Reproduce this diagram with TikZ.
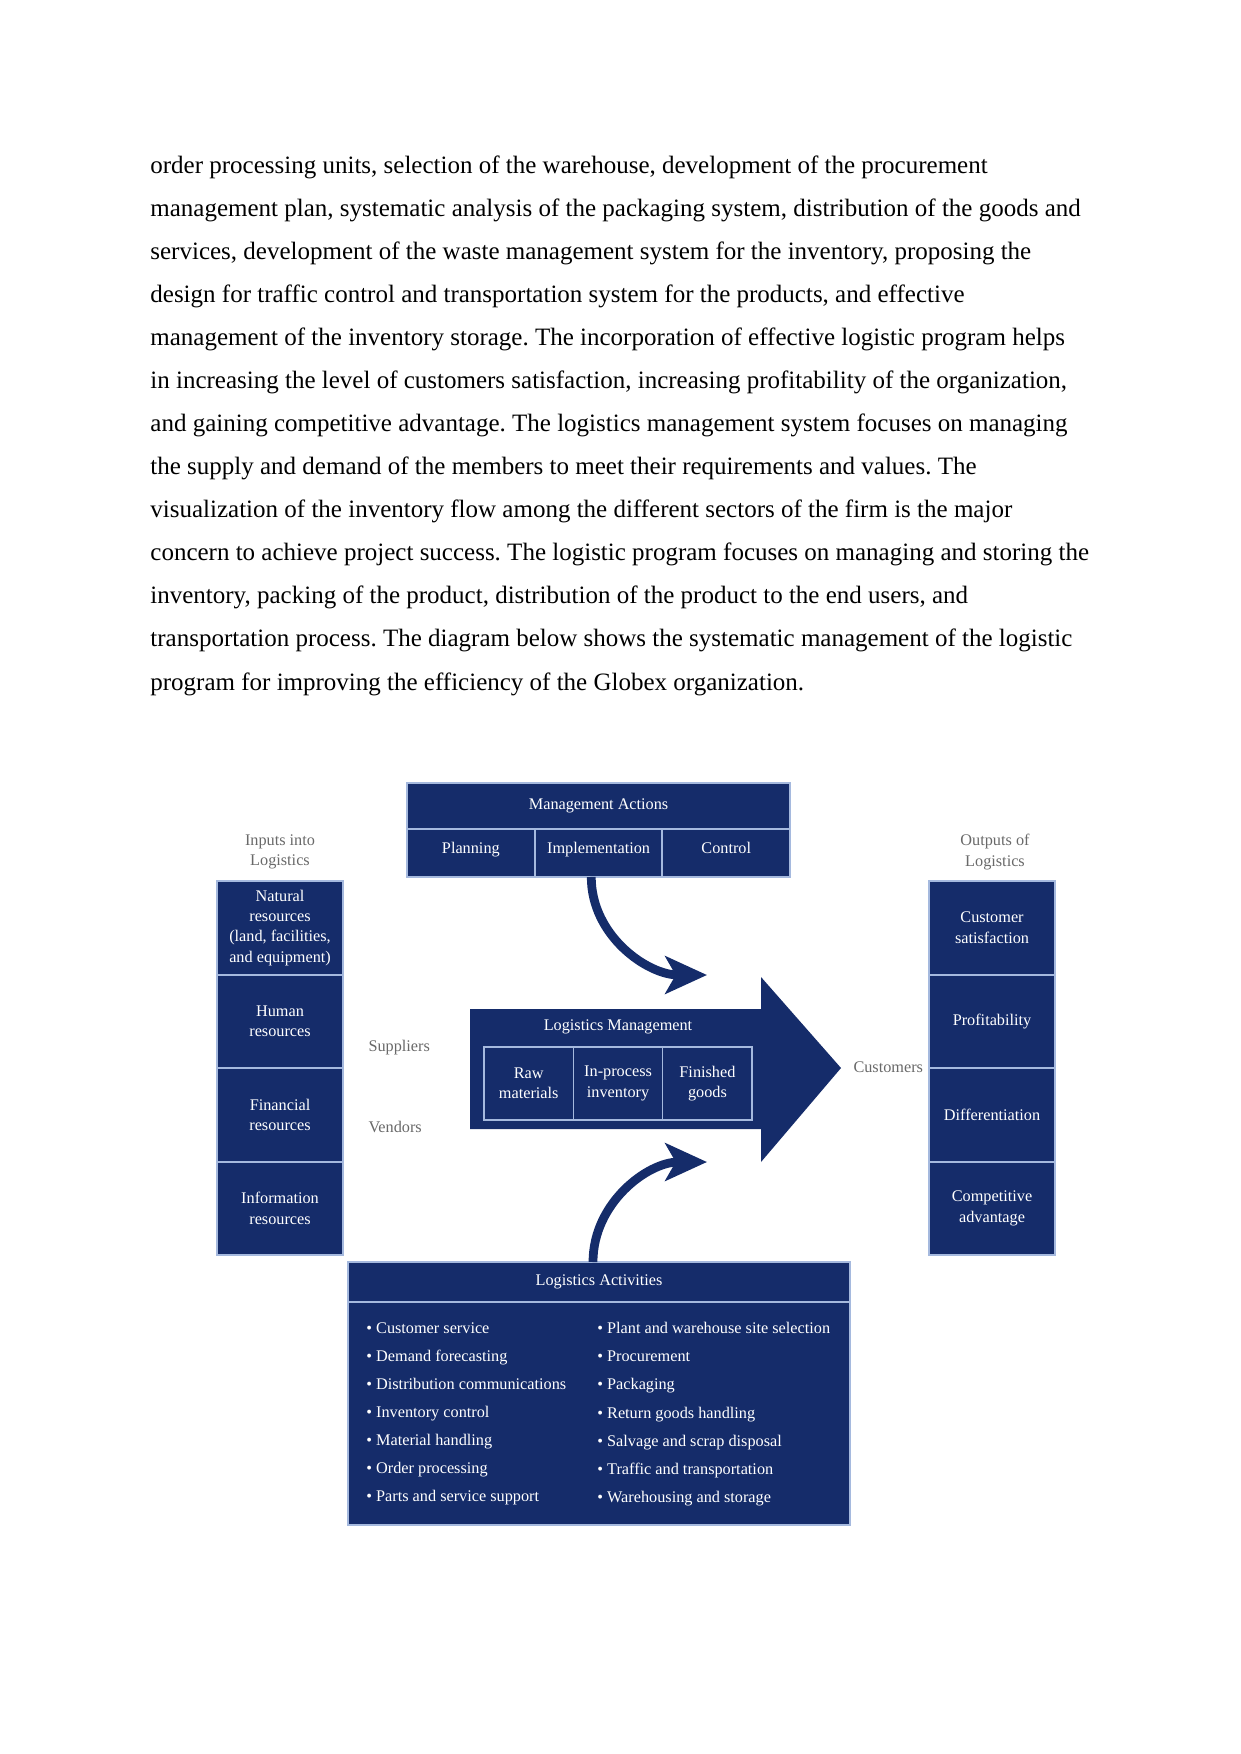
\documentclass[tikz,border=0pt]{standalone}
\usepackage{fontspec}
\setmainfont{Liberation Serif}
\usepackage{xcolor}
\usetikzlibrary{arrows.meta,positioning}
\definecolor{navy}{RGB}{21,44,106}
\definecolor{rulecol}{RGB}{165,185,222}
\definecolor{capgrey}{RGB}{105,105,105}
\tikzset{
  cell/.style={draw=rulecol, line width=1pt, fill=navy, text=white, align=center,
    inner sep=2pt, outer sep=0pt, font={\fontsize{7.8}{9.8}\selectfont}},
  mcell/.style={cell, minimum width=61.3pt, minimum height=23pt,
    text height=1.2ex, text depth=1.2ex},
  side/.style={cell, minimum width=60.5pt, minimum height=44.9pt},
  inv/.style={cell, line width=0.7pt, minimum width=42.9pt, minimum height=35pt},
  wtxt/.style={text=white, inner sep=1pt, font={\fontsize{7.8}{9.8}\selectfont}},
  lbl/.style={text=capgrey, align=center, inner sep=1pt,
    font={\fontsize{7.8}{9.8}\selectfont}},
  items/.style={text=white, align=left, inner sep=0pt,
    font={\fontsize{7.8}{13.5}\selectfont}},
  para/.style={align=left, inner sep=0pt,
    font={\fontsize{12}{20.68}\selectfont\frenchspacing}},
  flow/.style={-{Stealth[length=20pt, width=18pt, inset=5pt]}, line width=4.2pt,
    draw=navy}
}
\begin{document}
\begin{tikzpicture}[x=0.48pt, y=-0.48pt]
\fill[white] (0,0) rectangle (1241,1754);
\useasboundingbox (0,0) rectangle (1241,1754);

\node[para, anchor=north west] (txt) at (150,155) {order processing units, selection of the warehouse, development of the procurement\\
management plan, systematic analysis of the packaging system, distribution of the goods and\\
services, development of the waste management system for the inventory, proposing the\\
design for traffic control and transportation system for the products, and effective\\
management of the inventory storage. The incorporation of effective logistic program helps\\
in increasing the level of customers satisfaction, increasing profitability of the organization,\\
and gaining competitive advantage. The logistics management system focuses on managing\\
the supply and demand of the members to meet their requirements and values. The\\
visualization of the inventory flow among the different sectors of the firm is the major\\
concern to achieve project success. The logistic program focuses on managing and storing the\\
inventory, packing of the product, distribution of the product to the end users, and\\
transportation process. The diagram below shows the systematic management of the logistic\\
program for improving the efficiency of the Globex organization.};

\node[cell, minimum width=183.9pt, minimum height=22.1pt, anchor=north west] (ma) at (407,783) {Management Actions};
\node[mcell, anchor=north west] (pl) at (ma.south west) {Planning};
\node[mcell, right=0pt of pl] (im) {Implementation};
\node[mcell, right=0pt of im] (co) {Control};

\node[lbl] (inl) at (280,852) {Inputs into\\Logistics};
\node[side, anchor=north west] (nr) at (217,881) {Natural\\resources\\(land, facilities,\\and equipment)};
\node[side, below=0pt of nr] (hr) {Human\\resources};
\node[side, below=0pt of hr] (fr) {Financial\\resources};
\node[side, below=0pt of fr] (ir) {Information\\resources};

\node[lbl] (outl) at (995,852) {Outputs of\\Logistics};
\node[side, anchor=north west] (cs) at (929,881) {Customer\\satisfaction};
\node[side, below=0pt of cs] (pf) {Profitability};
\node[side, below=0pt of pf] (df) {Differentiation};
\node[side, below=0pt of df] (ca) {Competitive\\advantage};

\node[lbl, anchor=west] (sup) at (366,1048) {Suppliers};
\node[lbl, anchor=west] (ven) at (366,1127) {Vendors};
\node[lbl, anchor=west] (cus) at (851,1067) {Customers};

\fill[navy] (470,1009) -- (761,1009) -- (761,977) -- (841,1068) -- (761,1162)
  -- (761,1129) -- (470,1129) -- cycle;
\node[wtxt] (lmt) at (618,1027) {Logistics Management};
\node[inv, anchor=north west] (rm) at (484,1047) {Raw\\materials};
\node[inv, right=0pt of rm] (ip) {In-process\\inventory};
\node[inv, right=0pt of ip] (fg) {Finished\\goods};

\node[cell, minimum width=241pt, minimum height=19.2pt, anchor=north west] (la) at (348,1262) {Logistics Activities};
\node[cell, minimum width=241pt, minimum height=107pt, below=0pt of la] (lb) {};
\node[items, anchor=north west] (lc1) at (366,1322) {\textbullet\ Customer service\\
\textbullet\ Demand forecasting\\
\textbullet\ Distribution communications\\
\textbullet\ Inventory control\\
\textbullet\ Material handling\\
\textbullet\ Order processing\\
\textbullet\ Parts and service support};
\node[items, anchor=north west] (lc2) at (597,1322) {\textbullet\ Plant and warehouse site selection\\
\textbullet\ Procurement\\
\textbullet\ Packaging\\
\textbullet\ Return goods handling\\
\textbullet\ Salvage and scrap disposal\\
\textbullet\ Traffic and transportation\\
\textbullet\ Warehousing and storage};

\coordinate (t1) at (707,975);
\coordinate (t2) at (707,1162);
\draw[flow] ([xshift=-3.5pt]im.south) to[out=-90, in=180] (t1);
\draw[flow] ([xshift=-2.9pt]la.north) to[out=90, in=180] (t2);
\end{tikzpicture}
\end{document}
